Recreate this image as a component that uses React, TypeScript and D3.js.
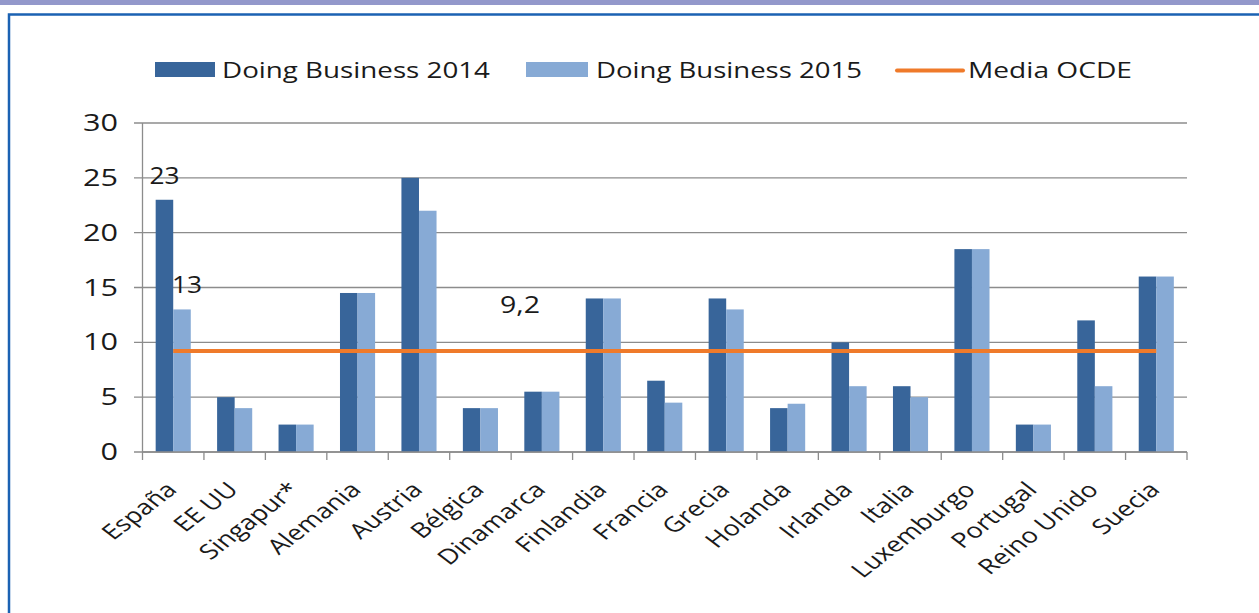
import React from "react";
import * as d3 from "d3";

const categories = ["España", "EE UU", "Singapur*", "Alemania", "Austria", "Bélgica", "Dinamarca", "Finlandia", "Francia", "Grecia", "Holanda", "Irlanda", "Italia", "Luxemburgo", "Portugal", "Reino Unido", "Suecia"];
const db2014 = [23, 5, 2.5, 14.5, 25, 4, 5.5, 14, 6.5, 14, 4, 10, 6, 18.5, 2.5, 12, 16];
const db2015 = [13, 4, 2.5, 14.5, 22, 4, 5.5, 14, 4.5, 13, 4.4, 6, 5, 18.5, 2.5, 6, 16];
const mediaOCDE = 9.2;
const yTicks = [0, 5, 10, 15, 20, 25, 30];
const seriesNames = ["Doing Business 2014", "Doing Business 2015", "Media OCDE"];
const dataLabels = [
  { cat: "España", series: 0, text: "23" },
  { cat: "España", series: 1, text: "13" },
];
const lineLabel = "9,2";

const W = 1259;
const H = 613;
const DARK = "#38659a";
const LIGHT = "#87aad5";
const ORANGE = "#ef7a2a";
const GRID = "#8c8c8c";
const FONT = "'Open Sans', 'DejaVu Sans', sans-serif";

export default function App() {
  const x = d3.scaleBand<string>().domain(categories).range([142.5, 1187]).paddingInner(0).paddingOuter(0);
  const y = d3.scaleLinear().domain([0, 30]).range([452, 123]);
  const step = x.step();
  const barW = step / 3.5;
  const sub = d3.scaleBand<number>().domain([0, 1]).range([0, barW * 2]);
  const cx = (c: string) => (x(c) as number) + step / 2;
  const barX = (c: string, s: number) => cx(c) - barW + (sub(s) as number);
  const series = [db2014, db2015];
  const colors = [DARK, LIGHT];

  const lineGen = d3.line<string>().x((c) => cx(c)).y(() => y(mediaOCDE));

  return (
    <svg width={W} height={H} style={{ position: "absolute", left: 0, top: 0, background: "#fff" }} fontFamily={FONT}>
      {/* page decoration */}
      <rect x={0} y={0} width={W} height={5} fill="#9398cb" />
      <path d={`M9,${H + 2} V14.5 H${W + 2}`} fill="none" stroke="#1b62b3" strokeWidth={2.5} />

      {/* gridlines */}
      {yTicks.map((t) => (
        <line key={"g" + t} x1={134} x2={1187} y1={y(t)} y2={y(t)} stroke={GRID} strokeWidth={1.3} />
      ))}
      {/* y axis */}
      <line x1={142.5} x2={142.5} y1={y(30)} y2={y(0)} stroke={GRID} strokeWidth={1.3} />
      {yTicks.map((t) => (
        <text key={"t" + t} x={118} y={y(t) + 8} textAnchor="end" fontSize={23} fill="#1a1a1a"
          textLength={String(t).length * 17.5} lengthAdjust="spacingAndGlyphs">{t}</text>
      ))}

      {/* bars */}
      {series.map((vals, s) =>
        categories.map((c, i) => (
          <rect key={`b${s}-${i}`} x={barX(c, s)} y={y(vals[i])} width={barW} height={y(0) - y(vals[i])} fill={colors[s]} />
        ))
      )}

      {/* x axis */}
      <line x1={142.5} x2={1187} y1={y(0)} y2={y(0)} stroke={GRID} strokeWidth={1.3} />
      {[...categories.map((c) => x(c) as number), 1187].map((tx, i) => (
        <line key={"xt" + i} x1={tx} x2={tx} y1={y(0)} y2={y(0) + 8} stroke={GRID} strokeWidth={1.3} />
      ))}
      {categories.map((c) => (
        <text key={"xl" + c} transform={`translate(${cx(c) + 5},${y(0) + 39}) scale(1.3,1) rotate(-45)`} textAnchor="end"
          fontSize={21} fill="#1a1a1a">{c}</text>
      ))}

      {/* Media OCDE line */}
      <path d={lineGen(categories) || ""} fill="none" stroke={ORANGE} strokeWidth={4} />

      {/* data labels */}
      {dataLabels.map((d, i) => {
        const s = d.series;
        const ci = categories.indexOf(d.cat);
        const bx = barX(d.cat, s) + barW / 2 + (s === 1 ? 5 : 0);
        return (
          <text key={"dl" + i} x={bx} y={y(series[s][ci]) - 16} textAnchor="middle" fontSize={23} fill="#1a1a1a"
            textLength={d.text.length * 15} lengthAdjust="spacingAndGlyphs">{d.text}</text>
        );
      })}
      <rect x={495} y={296} width={50} height={24} fill="#fff" />
      <text x={520} y={y(mediaOCDE) - 38} textAnchor="middle" fontSize={23} fill="#1a1a1a"
        textLength={40} lengthAdjust="spacingAndGlyphs">{lineLabel}</text>

      {/* legend */}
      <rect x={155} y={62} width={60} height={15} fill={DARK} />
      <text x={222} y={78} fontSize={22} fill="#1a1a1a" textLength={268} lengthAdjust="spacingAndGlyphs">{seriesNames[0]}</text>
      <rect x={526} y={62} width={62} height={15} fill={LIGHT} />
      <text x={596} y={78} fontSize={22} fill="#1a1a1a" textLength={266} lengthAdjust="spacingAndGlyphs">{seriesNames[1]}</text>
      <line x1={897} x2={963} y1={70.5} y2={70.5} stroke={ORANGE} strokeWidth={4} strokeLinecap="round" />
      <text x={968} y={78} fontSize={22} fill="#1a1a1a" textLength={164} lengthAdjust="spacingAndGlyphs">{seriesNames[2]}</text>
    </svg>
  );
}
